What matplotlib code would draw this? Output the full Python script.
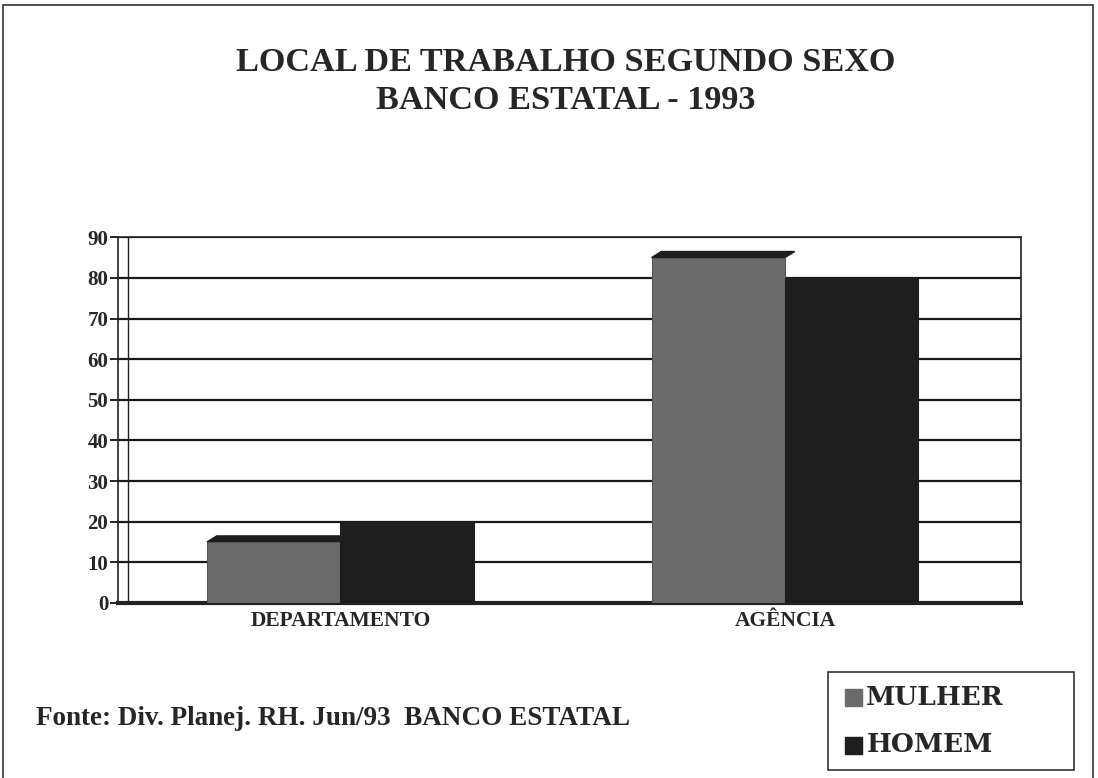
import matplotlib.pyplot as plt
from matplotlib.patches import Rectangle, Polygon
import numpy as np

# data (percentages)
categories = ["DEPARTAMENTO", "AGÊNCIA"]
mulher = [15, 85]
homem = [20, 80]
yticks = [0, 10, 20, 30, 40, 50, 60, 70, 80, 90]

plt.rcParams['font.family'] = ['Liberation Serif', 'DejaVu Serif']

fig = plt.figure(figsize=(10.98, 7.78), dpi=100)
fig.patch.set_facecolor("white")

# outer frame
fig.add_artist(Rectangle((0.003, -0.01), 0.992, 1.003, transform=fig.transFigure,
                         fill=False, edgecolor="#333333", linewidth=1.2))

fig.text(0.515, 0.92, "LOCAL DE TRABALHO SEGUNDO SEXO", ha="center", va="center",
         fontsize=24.7, fontweight="bold", color="#262626")
fig.text(0.515, 0.871, "BANCO ESTATAL - 1993", ha="center", va="center",
         fontsize=24.7, fontweight="bold", color="#262626")

ax = fig.add_axes([0.1075, 0.225, 0.822, 0.47])
x = np.arange(len(categories))
w = 0.3
ax.bar(x - w / 2, mulher, width=w, color="#6b6b6b", edgecolor="#555555",
       linewidth=0.8, zorder=3)
ax.bar(x + w / 2, homem, width=w, color="#1e1e1e", edgecolor="#1e1e1e",
       linewidth=0.8, zorder=3)

# dark top face on the grey bars (3D look)
dx, dy = 0.022, 1.5
for xi, h in zip(x, mulher):
    l, r = xi - w, xi
    ax.add_patch(Polygon([(l, h), (l + dx, h + dy), (r + dx, h + dy), (r, h)],
                         closed=True, color="#1e1e1e", zorder=2))

ax.set_xlim(-0.5, 1.53)
ax.set_ylim(0, 90)
# back wall line
ax.axvline(-0.5 + dx, color="#222222", linewidth=1.0, zorder=1)
ax.set_yticks(yticks)
ax.set_yticklabels([str(v) for v in yticks], fontsize=15, fontweight="bold",
                   color="#262626")
ax.set_xticks(x)
ax.set_xticklabels(categories, fontsize=15.5, fontweight="bold", color="#262626")
ax.tick_params(axis="x", length=0, pad=6)
ax.tick_params(axis="y", length=6, width=1.2, direction="out", pad=1)
ax.grid(axis="y", color="#1a1a1a", linewidth=1.6, zorder=1)
ax.set_axisbelow(True)
for s in ["left", "right", "top"]:
    ax.spines[s].set_linewidth(1.2)
    ax.spines[s].set_color("#222222")
ax.spines["bottom"].set_linewidth(3)
ax.spines["bottom"].set_color("#222222")

fig.text(0.033, 0.076, "Fonte: Div. Planej. RH. Jun/93  BANCO ESTATAL", ha="left",
         va="center", fontsize=19.5, fontweight="bold", color="#262626")

# legend box
fig.add_artist(Rectangle((0.754, 0.01), 0.224, 0.126, transform=fig.transFigure,
                         fill=False, edgecolor="#333333", linewidth=1.2))
leg_items = [("MULHER", "#6b6b6b", 0.104), ("HOMEM", "#1e1e1e", 0.043)]
for label, col, yy in leg_items:
    fig.add_artist(Rectangle((0.770, yy - 0.012), 0.015, 0.022,
                             transform=fig.transFigure, color=col))
    fig.text(0.789, yy, label, ha="left", va="center", fontsize=19,
             fontweight="bold", color="#262626", family=["DejaVu Serif"])

fig.savefig("out.png", dpi=100)
